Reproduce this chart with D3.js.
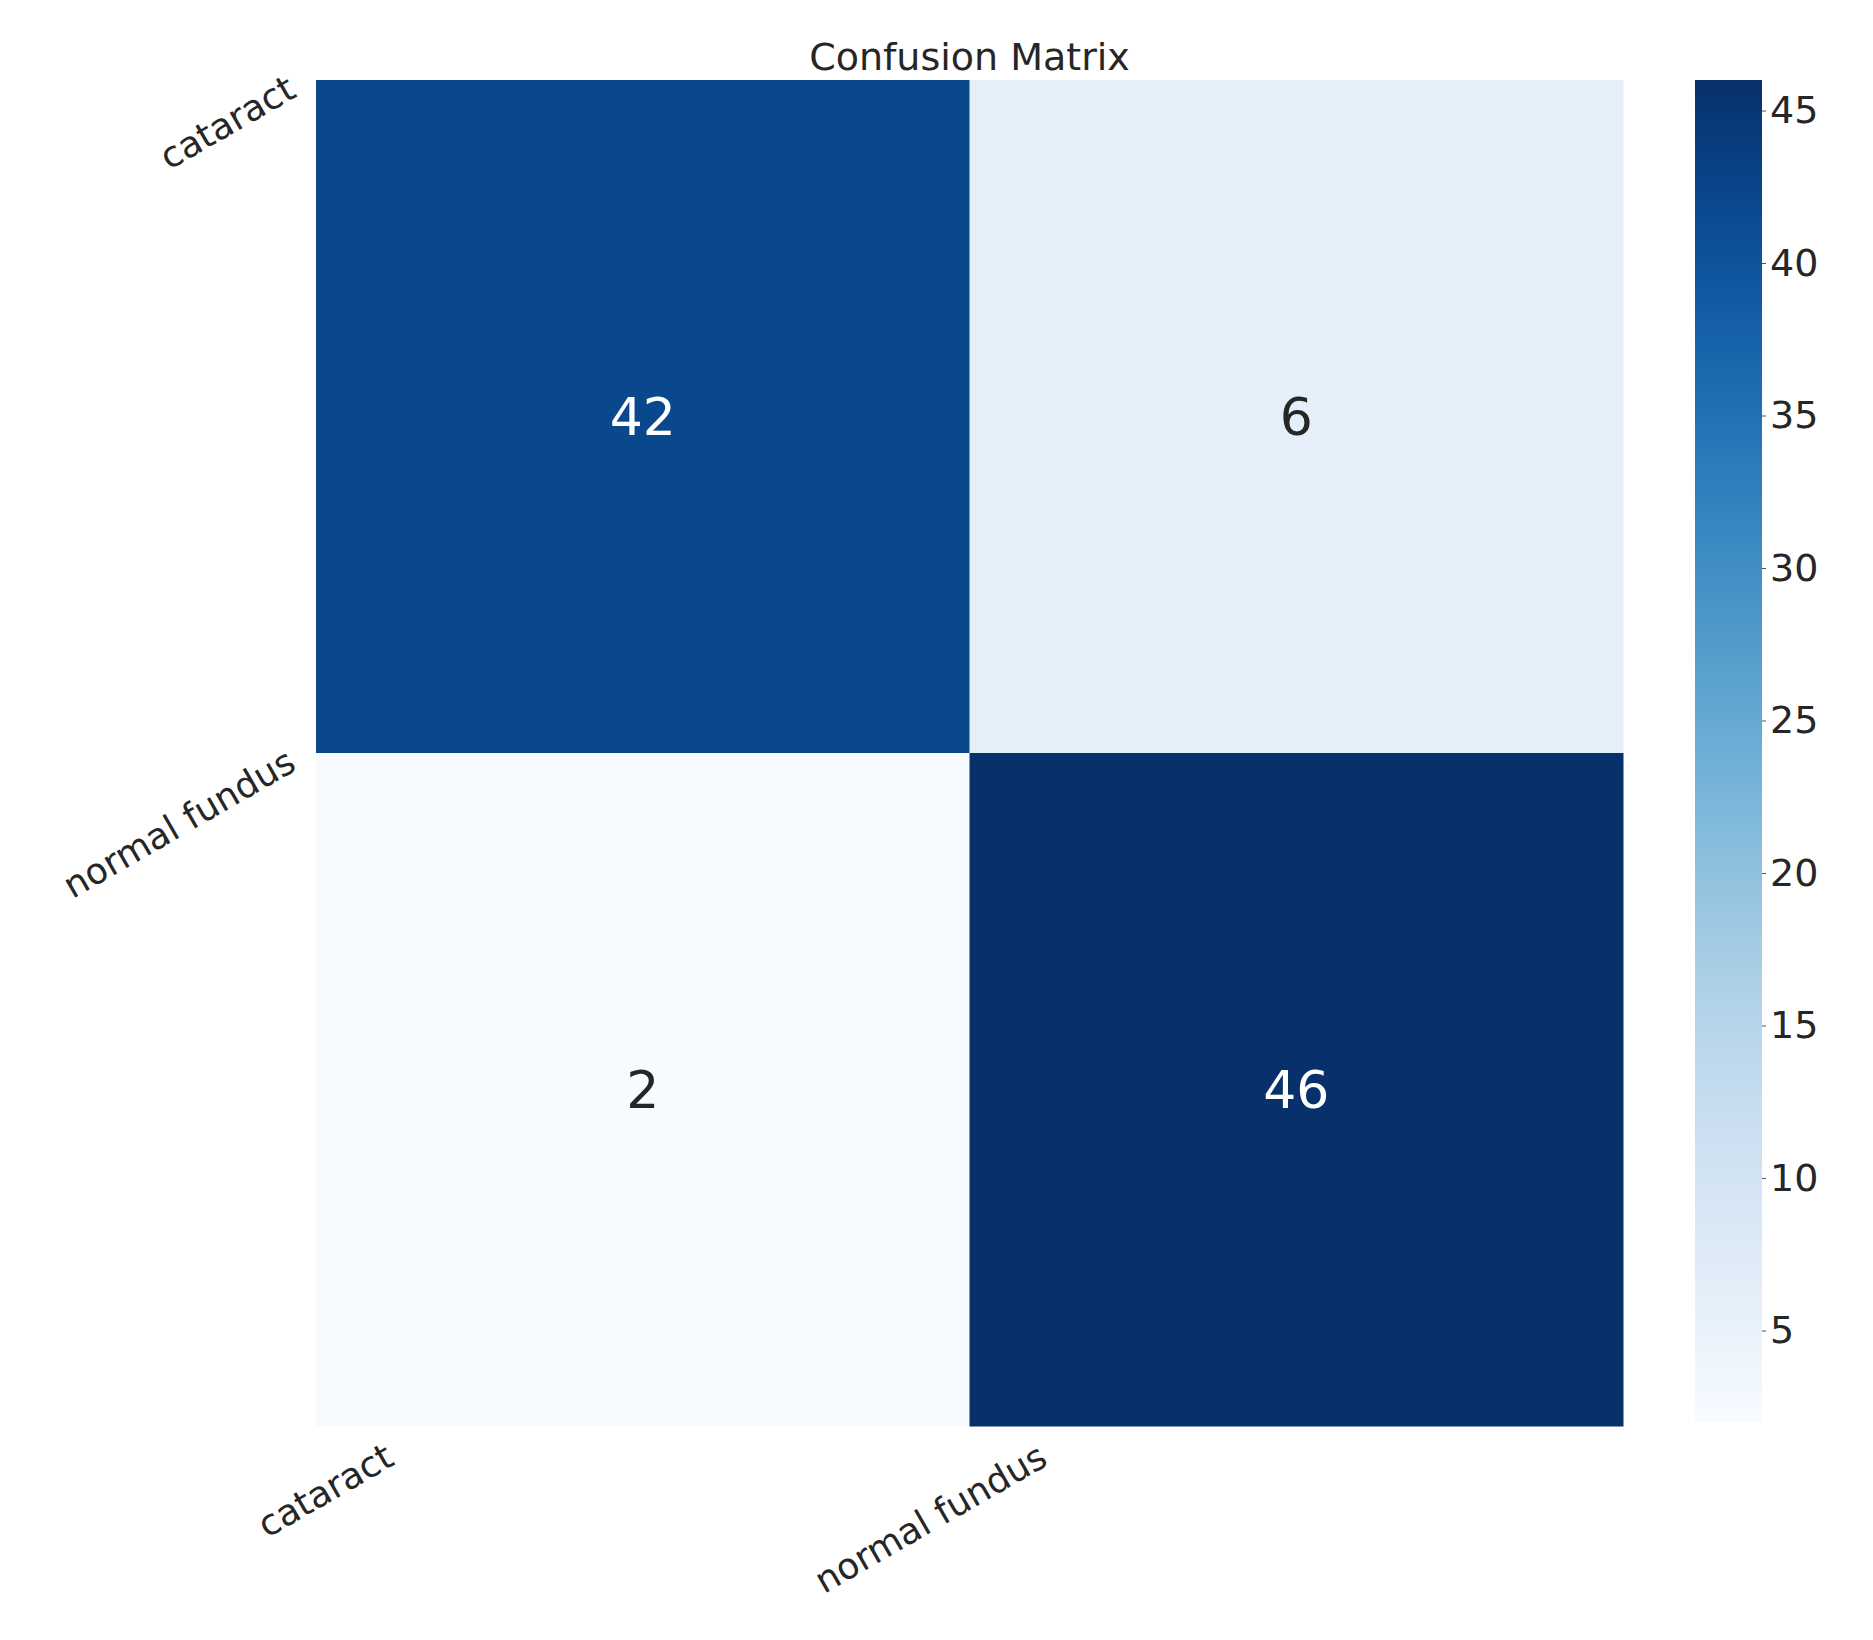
<!DOCTYPE html>
<html><head><meta charset="utf-8">
<script src="https://cdn.jsdelivr.net/npm/d3@7"></script>
<style>body{margin:0;background:#fff}text{font-family:"DejaVu Sans",sans-serif;fill:#262626}</style>
</head><body><svg id="c" width="1873" height="1640"></svg>
<script>
var labels = ['cataract','normal fundus']
var values = [[42,6],[2,46]]
var cbTicks = [5,10,15,20,25,30,35,40,45]
var vmin = 2, vmax = 46

var svg = d3.select('#c')
var pLeft = 316, pRight = 1623, pTop = 80, pBottom = 1426
var x = d3.scaleBand().domain(labels).range([pLeft,pRight])
var y = d3.scaleBand().domain(labels).range([pTop,pBottom])
var color = d3.scaleSequential(d3.interpolateBlues).domain([vmin,vmax])

svg.append('text').attr('x',(pLeft+pRight)/2).attr('y',70)
	.attr('text-anchor','middle').style('font-size','38px').text('Confusion Matrix')

var cells = []
values.forEach(function(row,i){
	row.forEach(function(v,j){ cells.push({r:labels[i],c:labels[j],v:v}) })
})
svg.selectAll('.cell').data(cells).enter().append('rect')
	.attr('class','cell')
	.attr('x',function(d){return x(d.c)})
	.attr('y',function(d){return y(d.r)})
	.attr('width',x.bandwidth()+0.5)
	.attr('height',y.bandwidth()+0.5)
	.attr('fill',function(d){return color(d.v)})
svg.selectAll('.ann').data(cells).enter().append('text')
	.attr('class','ann')
	.attr('x',function(d){return x(d.c)+x.bandwidth()/2})
	.attr('y',function(d){return y(d.r)+y.bandwidth()/2})
	.attr('text-anchor','middle').attr('dy','0.35em')
	.style('font-size','52px')
	.style('fill',function(d){return d.v > 24 ? '#fff' : '#262626'})
	.text(function(d){return d.v})

svg.append('clipPath').attr('id','lc').append('rect')
	.attr('x',46).attr('y',0).attr('width',1873).attr('height',1640)
// y labels, rotated, anchored near top of each row
svg.append('g').attr('clip-path','url(#lc)').selectAll('text').data(labels).enter().append('text')
	.attr('text-anchor','end')
	.attr('transform',function(d){return 'translate(298,'+(y(d)+16)+') rotate(-30)'})
	.style('font-size','36px').text(function(d){return d})
// x labels
svg.append('g').selectAll('text').data(labels).enter().append('text')
	.attr('text-anchor','end')
	.attr('transform',function(d){return 'translate('+(x(d)+80)+','+(pBottom+38)+') rotate(-30)'})
	.style('font-size','36px').text(function(d){return d})

// colorbar
var cbx = 1695, cbw = 67
var cy = d3.scaleLinear().domain([vmin,vmax]).range([pBottom-4,pTop])
var grad = svg.append('defs').append('linearGradient').attr('id','g')
	.attr('x1',0).attr('y1',1).attr('x2',0).attr('y2',0)
d3.range(0,1.01,0.05).forEach(function(t){
	grad.append('stop').attr('offset',t).attr('stop-color',color(vmin+t*(vmax-vmin)))
})
svg.append('rect').attr('x',cbx).attr('y',cy(vmax)).attr('width',cbw)
	.attr('height',cy(vmin)-cy(vmax)).attr('fill','url(#g)')
var ax = svg.append('g').attr('transform','translate('+(cbx+cbw)+',0)')
	.call(d3.axisRight(cy).tickValues(cbTicks).tickSize(4).tickPadding(4))
ax.select('.domain').remove()
ax.selectAll('line').attr('stroke','#555')
ax.selectAll('text').style('font-size','38px').style('font-family','DejaVu Sans').attr('fill','#262626')
</script></body></html>
